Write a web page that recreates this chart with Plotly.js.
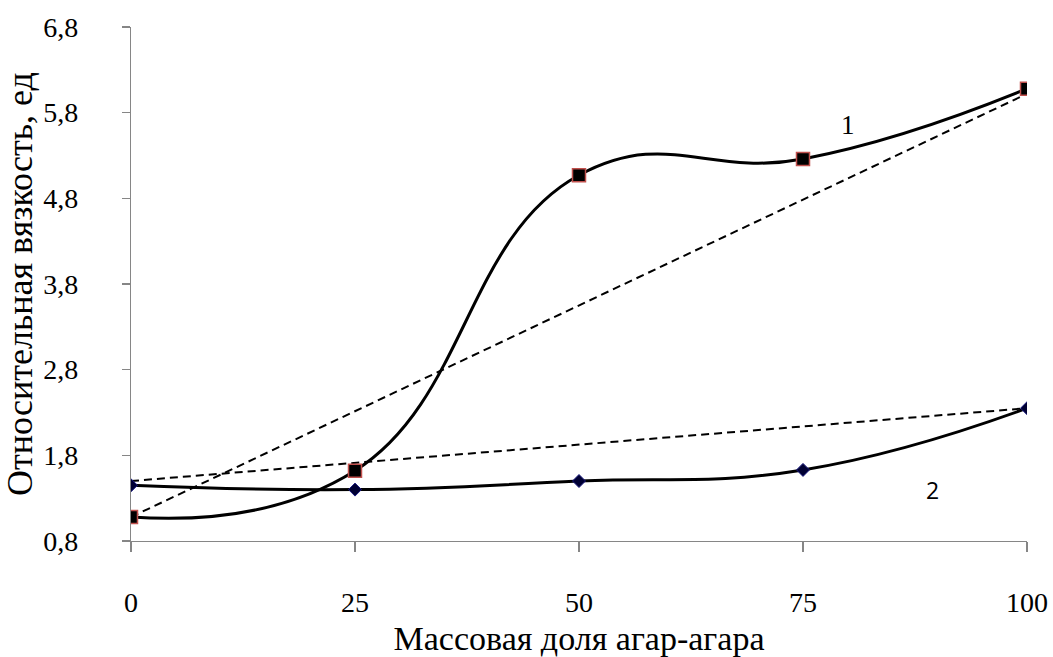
<!DOCTYPE html>
<html>
<head>
<meta charset="utf-8">
<script src="https://cdn.plot.ly/plotly-3.0.1.min.js"></script>
<style>html,body{margin:0;padding:0;background:#fff;}#chart{width:1053px;height:657px;}</style>
</head>
<body>
<div id="chart"></div>
<script>
const xValues = [0, 25, 50, 75, 100];
const series1 = [1.08, 1.62, 5.07, 5.26, 6.08];
const series2 = [1.45, 1.40, 1.50, 1.63, 2.35];
const additiveX = [0, 100];
const additive1 = [1.08, 6.02];
const additive2 = [1.50, 2.35];
const yTicks = [0.8, 1.8, 2.8, 3.8, 4.8, 5.8, 6.8];
const xTicks = [0, 25, 50, 75, 100];

const serif = "Liberation Serif, Times New Roman, serif";

const traces = [
  {x: additiveX, y: additive1, mode: 'lines', line: {color: '#000', width: 2, dash: '8px,5px'}, hoverinfo: 'skip'},
  {x: additiveX, y: additive2, mode: 'lines', line: {color: '#000', width: 2, dash: '8px,5px'}, hoverinfo: 'skip'},
  {x: xValues, y: series2, mode: 'lines+markers', line: {color: '#000', width: 3, shape: 'spline', smoothing: 1.3},
   marker: {symbol: 'diamond', size: 10, color: '#000033', line: {color: '#1a1a80', width: 1}}},
  {x: xValues, y: series1, mode: 'lines+markers', line: {color: '#000', width: 3, shape: 'spline', smoothing: 1.3},
   marker: {symbol: 'square', size: 13, color: '#000', line: {color: '#c0504d', width: 1.5}}}
];

const layout = {
  width: 1053, height: 657,
  margin: {l: 131, r: 26, t: 27, b: 116},
  paper_bgcolor: '#fff', plot_bgcolor: '#fff',
  showlegend: false,
  separators: ', ',
  font: {family: serif, color: '#000', size: 22},
  xaxis: {
    range: [0, 100], tickvals: xTicks, ticktext: xTicks.map(String),
    showgrid: false, zeroline: false, showline: true, linecolor: '#868686', linewidth: 1.2,
    ticks: 'outside', ticklen: 10, tickcolor: '#868686', tickwidth: 1.2,
    ticklabelstandoff: 26,
    tickfont: {family: serif, size: 28},
    title: {text: 'Массовая доля агар-агара', font: {family: serif, size: 34}, standoff: 10}
  },
  yaxis: {
    range: [0.8, 6.8], tickvals: yTicks, ticktext: yTicks.map(v => v.toFixed(1).replace('.', ',')),
    showgrid: false, zeroline: false, showline: true, linecolor: '#868686', linewidth: 1.2,
    ticks: 'outside', ticklen: 8, tickcolor: '#868686', tickwidth: 1.2,
    ticklabelstandoff: 38,
    tickfont: {family: serif, size: 28},
    title: {text: 'Относительная вязкость, ед', font: {family: serif, size: 36}, standoff: 0}
  },
  annotations: [
    {x: 80, y: 5.66, xref: 'x', yref: 'y', text: '1', showarrow: false, font: {family: serif, size: 27}},
    {x: 89.5, y: 1.4, xref: 'x', yref: 'y', text: '2', showarrow: false, font: {family: 'Open Sans, DejaVu Sans, sans-serif', size: 23}}
  ]
};

Plotly.newPlot('chart', traces, layout, {displayModeBar: false, staticPlot: true});
</script>
</body>
</html>
